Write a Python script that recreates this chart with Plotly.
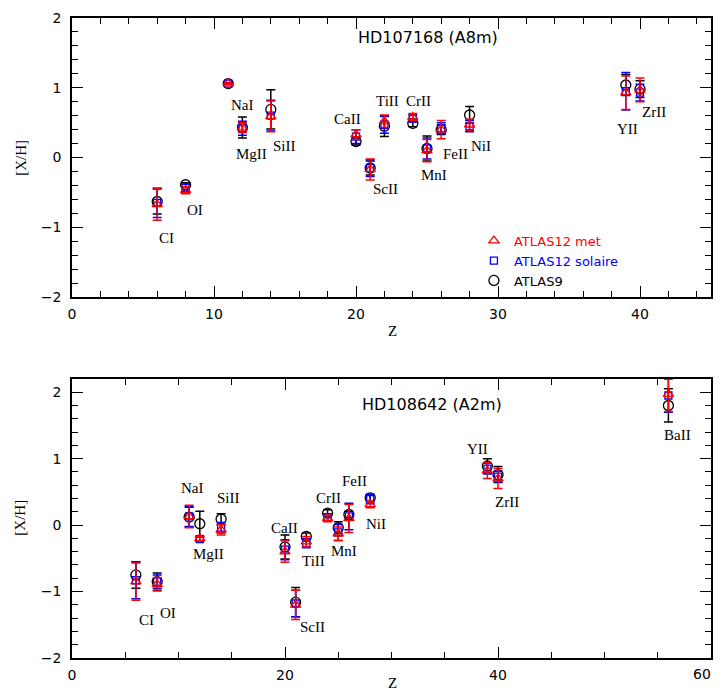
import plotly.graph_objects as go

# ---------------- data: HD107168 (A8m) ----------------
Z_TOP = [6, 8, 11, 12, 14, 20, 21, 22, 24, 25, 26, 28, 39, 40]
LABELS_TOP = ["CI", "OI", "NaI", "MgII", "SiII", "CaII", "ScII", "TiII", "CrII", "MnI", "FeII", "NiI", "YII", "ZrII"]
MET_TOP = [-0.67, -0.47, 1.06, 0.43, 0.59, 0.33, -0.17, 0.52, 0.58, 0.10, 0.40, 0.47, 0.93, 0.97]
MET_TOP_ERR = [0.23, 0.05, 0.01, 0.07, 0.22, 0.07, 0.15, 0.09, 0.05, 0.16, 0.13, 0.08, 0.24, 0.17]
SOL_TOP = [-0.65, -0.43, 1.06, 0.42, 0.60, 0.30, -0.15, 0.47, 0.56, 0.13, 0.42, 0.45, 0.95, 0.93]
SOL_TOP_ERR = [0.21, 0.05, 0.01, 0.10, 0.22, 0.10, 0.12, 0.12, 0.05, 0.15, 0.08, 0.08, 0.27, 0.12]
A9_TOP = [-0.63, -0.39, 1.06, 0.43, 0.69, 0.23, -0.15, 0.45, 0.49, 0.13, 0.40, 0.61, 1.04, 0.98]
A9_TOP_ERR = [0.18, 0.03, 0.01, 0.15, 0.28, 0.05, 0.10, 0.15, 0.05, 0.18, 0.07, 0.12, 0.15, 0.12]

# ---------------- data: HD108642 (A2m) ----------------
Z_BOT = [6, 8, 11, 12, 14, 20, 21, 22, 24, 25, 26, 28, 39, 40, 56]
LABELS_BOT = ["CI", "OI", "NaI", "MgII", "SiII", "CaII", "ScII", "TiII", "CrII", "MnI", "FeII", "NiI", "YII", "ZrII", "BaII"]
MET_BOT = [-0.85, -0.89, 0.13, -0.20, -0.07, -0.40, -1.20, -0.25, 0.10, -0.13, 0.10, 0.31, 0.82, 0.70, 1.97]
MET_BOT_ERR = [0.28, 0.10, 0.17, 0.03, 0.08, 0.16, 0.22, 0.08, 0.05, 0.10, 0.21, 0.05, 0.12, 0.15, 0.26]
SOL_BOT = [-0.83, -0.85, 0.13, -0.21, -0.04, -0.37, -1.18, -0.27, 0.12, -0.11, 0.13, 0.39, 0.85, 0.73, 1.95]
SOL_BOT_ERR = [0.28, 0.10, 0.15, 0.03, 0.08, 0.15, 0.20, 0.07, 0.05, 0.12, 0.20, 0.07, 0.08, 0.08, 0.25]
A9_BOT = [-0.75, -0.85, 0.12, 0.02, 0.09, -0.33, -1.16, -0.17, 0.18, -0.04, 0.16, 0.41, 0.89, 0.76, 1.80]
A9_BOT_ERR = [0.20, 0.13, 0.15, 0.19, 0.08, 0.18, 0.22, 0.05, 0.05, 0.09, 0.05, 0.05, 0.11, 0.12, 0.25]

SERIES_NAMES = ["ATLAS12 met", "ATLAS12 solaire", "ATLAS9"]
TITLES = ["HD107168 (A8m)", "HD108642 (A2m)"]
X2_LAST_TICK_LABEL = "60"

# ---------------- layout constants (label placement) ----------------
LAB_X_TOP = [6.65, 8.68, 11.98, 12.65, 14.96, 19.42, 22.1, 22.2, 24.4, 25.47, 26.98, 28.8, 39.12, 40.99]
LAB_Y_TOP = [-1.15, -0.75, 0.75, 0.05, 0.16, 0.55, -0.45, 0.81, 0.81, -0.25, 0.05, 0.16, 0.41, 0.66]
LAB_X_BOT = [7.04, 9.04, 11.28, 12.8, 14.7, 19.94, 22.55, 22.7, 24.05, 25.5, 26.57, 28.57, 38.04, 40.84, 56.9]
LAB_Y_BOT = [-1.43, -1.33, 0.56, -0.43, 0.41, -0.04, -1.53, -0.54, 0.41, -0.39, 0.66, 0.015, 1.15, 0.35, 1.36]

RED = "#ff0000"
BLUE = "#0000ff"
BLACK = "#000000"
SERIF = "Liberation Serif"
SANS = "DejaVu Sans"

fig = go.Figure()


def add_series(xa, ya, z, vals, errs, color, symbol, size, name, rank, show):
    fig.add_trace(go.Scatter(
        x=z, y=vals, mode="markers", xaxis=xa, yaxis=ya,
        name='<span style="color:%s">%s</span>' % (color, name),
        legendrank=rank, showlegend=show, hoverinfo="skip",
        marker=dict(symbol=symbol, size=size, color=color,
                    line=dict(color=color, width=1.3)),
        error_y=dict(type="data", array=errs, visible=True, color=color,
                     thickness=1.5, width=4.5),
        cliponaxis=True,
    ))


# top panel (draw black, blue, red)
add_series("x", "y", Z_TOP, A9_TOP, A9_TOP_ERR, BLACK, "circle-open", 10, SERIES_NAMES[2], 3, True)
add_series("x", "y", Z_TOP, SOL_TOP, SOL_TOP_ERR, BLUE, "square-open", 7, SERIES_NAMES[1], 2, True)
add_series("x", "y", Z_TOP, MET_TOP, MET_TOP_ERR, RED, "triangle-up-open", 9, SERIES_NAMES[0], 1, True)
# bottom panel
add_series("x2", "y2", Z_BOT, A9_BOT, A9_BOT_ERR, BLACK, "circle-open", 10, SERIES_NAMES[2], 3, False)
add_series("x2", "y2", Z_BOT, SOL_BOT, SOL_BOT_ERR, BLUE, "square-open", 7, SERIES_NAMES[1], 2, False)
add_series("x2", "y2", Z_BOT, MET_BOT, MET_BOT_ERR, RED, "triangle-up-open", 9, SERIES_NAMES[0], 1, False)

annotations = []
for t, x, y in zip(LABELS_TOP, LAB_X_TOP, LAB_Y_TOP):
    annotations.append(dict(text=t, x=x, y=y, xref="x", yref="y", showarrow=False,
                            xanchor="center", yanchor="middle",
                            font=dict(family=SERIF, size=15, color=BLACK)))
for t, x, y in zip(LABELS_BOT, LAB_X_BOT, LAB_Y_BOT):
    annotations.append(dict(text=t, x=x, y=y, xref="x2", yref="y2", showarrow=False,
                            xanchor="center", yanchor="middle",
                            font=dict(family=SERIF, size=15, color=BLACK)))
annotations.append(dict(text=TITLES[0], x=25.07, y=1.72, xref="x", yref="y", showarrow=False,
                        xanchor="center", yanchor="middle",
                        font=dict(family=SANS, size=16, color=BLACK)))
annotations.append(dict(text=TITLES[1], x=33.8, y=1.82, xref="x2", yref="y2", showarrow=False,
                        xanchor="center", yanchor="middle",
                        font=dict(family=SANS, size=16, color=BLACK)))
# axis titles
for ypos in (0.782, 0.2196):
    annotations.append(dict(text="[X/H]", x=-0.081, y=ypos, xref="paper", yref="paper",
                            showarrow=False, textangle=-90, xanchor="center", yanchor="middle",
                            font=dict(family=SERIF, size=15, color=BLACK)))
for ypos in (0.511, -0.039):
    annotations.append(dict(text="Z", x=0.501, y=ypos, xref="paper", yref="paper",
                            showarrow=False, xanchor="center", yanchor="middle",
                            font=dict(family=SERIF, size=15, color=BLACK)))
# last bottom x tick label sits on the window edge; keep it inside the figure
annotations.append(dict(text=X2_LAST_TICK_LABEL, x=1.0031, y=-0.0255, xref="paper", yref="paper",
                        showarrow=False, xanchor="right", yanchor="middle",
                        font=dict(family=SANS, size=14, color=BLACK)))

axis_common = dict(showline=True, linecolor=BLACK, linewidth=1.5, mirror="ticks",
                   ticks="inside", ticklen=11, tickwidth=1.2, tickcolor=BLACK,
                   showgrid=False, zeroline=False,
                   tickfont=dict(family=SANS, size=14, color=BLACK))

# the page body adds an 8px margin, so the figure is sized so the whole page fits the window
fig.update_layout(
    width=707, height=682,
    margin=dict(l=64, r=2, t=8, b=32),
    paper_bgcolor="white", plot_bgcolor="white",
    xaxis=dict(domain=[0, 1], anchor="y", range=[0, 45], dtick=10, tick0=0,
               ticklabelstandoff=3,
               minor=dict(ticks="inside", ticklen=6, dtick=2, tickcolor=BLACK, tickwidth=1.2),
               **axis_common),
    yaxis=dict(domain=[0.5639, 1], anchor="x", range=[-2, 2], dtick=1, tick0=0,
               ticklabelstandoff=6, ticklabeloverflow="allow",
               minor=dict(ticks="inside", ticklen=6, dtick=0.2, tickcolor=BLACK, tickwidth=1.2),
               **axis_common),
    xaxis2=dict(domain=[0, 1], anchor="y2", range=[0, 60], tickvals=[0, 20, 40],
                ticklabelstandoff=3,
                minor=dict(ticks="inside", ticklen=6, dtick=5, tickcolor=BLACK, tickwidth=1.2),
                **axis_common),
    yaxis2=dict(domain=[0, 0.4361], anchor="x2", range=[-2, 2.2], dtick=1, tick0=0,
                ticklabelstandoff=6, ticklabeloverflow="allow",
                minor=dict(ticks="inside", ticklen=6, dtick=0.2, tickcolor=BLACK, tickwidth=1.2),
                **axis_common),
    legend=dict(x=0.629, y=0.6755, xanchor="left", yanchor="top",
                bgcolor="rgba(0,0,0,0)", borderwidth=0, tracegroupgap=0,
                font=dict(family=SANS, size=13, color=BLACK)),
    annotations=annotations,
    showlegend=True,
    hovermode=False,
)

fig.write_html("out.html", config={"displayModeBar": False})
